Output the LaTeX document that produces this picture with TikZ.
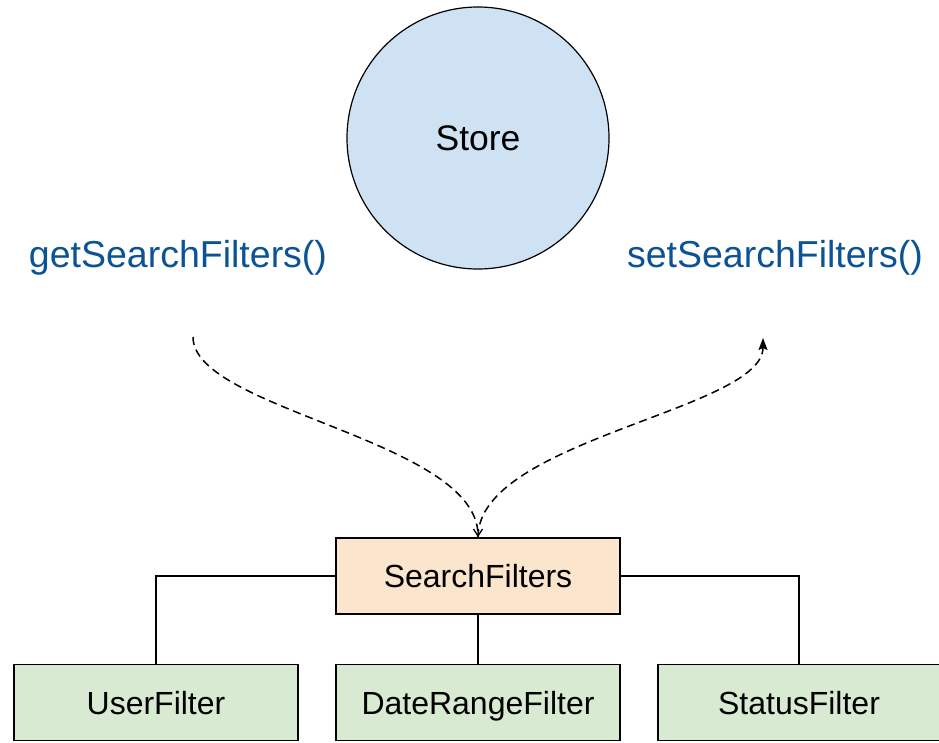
\documentclass[tikz,border=0pt]{standalone}
\usepackage{fontspec}
\setmainfont{Liberation Sans}
\usetikzlibrary{arrows.meta}
\definecolor{storefill}{HTML}{CFE2F3}
\definecolor{rootfill}{HTML}{FCE5CD}
\definecolor{leaffill}{HTML}{D9EAD3}
\definecolor{apiblue}{HTML}{0B5394}
\tikzset{
  box/.style={draw=black, line width=1.6pt, minimum width=284pt, minimum height=76pt,
              inner sep=0pt, text height=23pt, text depth=0pt,
              font=\fontsize{32}{36}\selectfont},
  rootbox/.style={box, fill=rootfill},
  leafbox/.style={box, fill=leaffill},
  apilabel/.style={text=apiblue, anchor=base, inner sep=0pt, font=\fontsize{37.5}{42}\selectfont},
  tree/.style={draw=black, line width=1.2pt},
  flow/.style={draw=black, line width=1.5pt, dash pattern=on 8pt off 5pt}
}
\begin{document}
\begin{tikzpicture}[x=1pt, y=-1pt]
\useasboundingbox (0,0) rectangle (939,742);

% store
\node[circle, draw=black, line width=1.2pt, fill=storefill, minimum size=262pt, inner sep=0pt,
      font=\fontsize{35.5}{42}\selectfont] (store) at (478,138) {Store};

% accessor labels
\node[apilabel] (get) at (178,267) {getSearchFilters()};
\node[apilabel] (set) at (775,267) {setSearchFilters()};

% component tree
\node[rootbox] (sf) at (478,576) {SearchFilters};
\node[leafbox] (uf) at (156,702.5) {UserFilter};
\node[leafbox] (df) at (478,702.5) {DateRangeFilter};
\node[leafbox, minimum width=282pt] (stf) at (799,702.5) {StatusFilter};

\draw[tree] (sf.west) -| (uf.north);
\draw[tree] (sf.south) -- (df.north);
\draw[tree] (sf.east) -| (stf.north);

% data flow between store accessors and SearchFilters
\coordinate (gfrom) at (193,337);
\coordinate (sto) at (763,338);
\draw[flow, -{Straight Barb[length=7pt, width=9pt, line width=1.3pt]}]
  (gfrom) .. controls (193,410) and (478,440) .. (sf.north);
\draw[flow, -{Stealth[length=12pt, width=9pt, inset=2pt]}]
  (sf.north) .. controls (478,440) and (763,410) .. (sto);
\end{tikzpicture}
\end{document}
